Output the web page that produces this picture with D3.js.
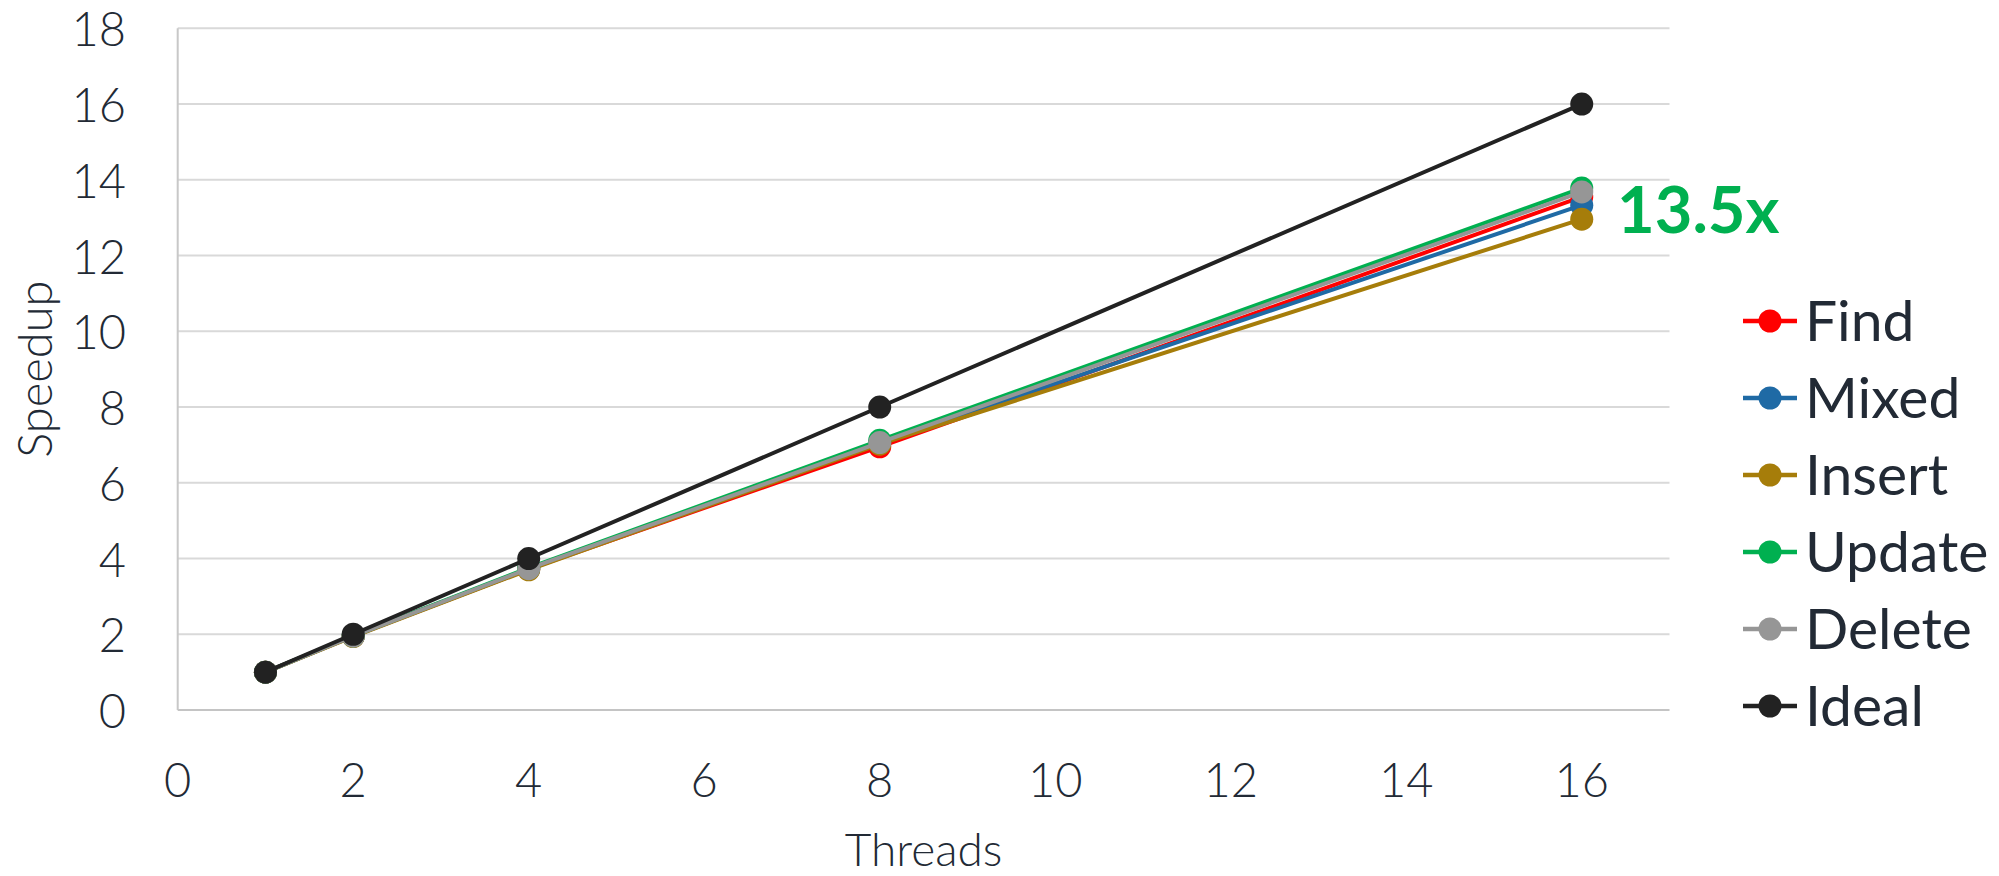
<!DOCTYPE html>
<html>
<head>
<meta charset="utf-8">
<script src="https://cdn.jsdelivr.net/npm/d3@7"></script>
<style>
  html, body { margin: 0; padding: 0; background: #ffffff; }
  svg { display: block; }
</style>
</head>
<body>
<svg id="chart" width="1999" height="876"></svg>
<script>
const threads = [1, 2, 4, 8, 16];
const seriesNames = ["Find", "Mixed", "Insert", "Update", "Delete", "Ideal"];
const findValues   = [1, 1.95, 3.72, 6.95, 13.55];
const mixedValues  = [1, 1.95, 3.72, 7.05, 13.33];
const insertValues = [1, 1.94, 3.70, 7.02, 12.96];
const updateValues = [1, 1.96, 3.75, 7.12, 13.78];
const deleteValues = [1, 1.95, 3.73, 7.06, 13.68];
const idealValues  = [1, 2, 4, 8, 16];
const seriesColors = ["#ff0000", "#1f6aa5", "#a67d0a", "#00b050", "#969696", "#222222"];
const xTicks = [0, 2, 4, 6, 8, 10, 12, 14, 16];
const yTicks = [0, 2, 4, 6, 8, 10, 12, 14, 16, 18];
const annotationText = "13.5x";
const xTitle = "Threads";
const yTitle = "Speedup";

(function () {
const allValues = [findValues, mixedValues, insertValues, updateValues, deleteValues, idealValues];
const series = seriesNames.map((name, i) => ({
  name, color: seriesColors[i],
  points: threads.map((t, j) => ({ x: t, y: allValues[i][j] }))
}));

const textColor = "#222a35";
const svg = d3.select("#chart");
const pLeft = 177.7, pRight = 1669.5, pTop = 28.3, pBottom = 710;

const x = d3.scaleLinear().domain([0, 17]).range([pLeft, pRight]);
const y = d3.scaleLinear().domain([0, 18]).range([pBottom, pTop]);

// gridlines
svg.append("g").selectAll("line").data(yTicks).join("line")
  .attr("x1", pLeft).attr("x2", pRight)
  .attr("y1", d => y(d)).attr("y2", d => y(d))
  .attr("stroke", d => d === 0 ? "#c4c4c4" : "#d9d9d9")
  .attr("stroke-width", 2);
// left axis line
svg.append("line").attr("x1", pLeft).attr("x2", pLeft).attr("y1", pTop).attr("y2", pBottom)
  .attr("stroke", "#c8c8c8").attr("stroke-width", 2);

// y tick labels
svg.append("g").selectAll("text").data(yTicks).join("text")
  .attr("x", 126).attr("y", d => y(d))
  .attr("text-anchor", "end").attr("dominant-baseline", "central")
  .attr("font-family", "Lato").attr("font-weight", 300).attr("font-size", 47)
  .attr("fill", textColor).text(d => d);

// x tick labels
svg.append("g").selectAll("text").data(xTicks).join("text")
  .attr("x", d => x(d)).attr("y", 797)
  .attr("text-anchor", "middle")
  .attr("font-family", "Lato").attr("font-weight", 300).attr("font-size", 47)
  .attr("fill", textColor).text(d => d);

// axis titles
svg.append("text").attr("x", (pLeft + pRight) / 2).attr("y", 866)
  .attr("text-anchor", "middle")
  .attr("font-family", "Lato").attr("font-weight", 300).attr("font-size", 46)
  .attr("fill", textColor).text(xTitle);
svg.append("text")
  .attr("transform", `translate(52, ${(pTop + pBottom) / 2}) rotate(-90)`)
  .attr("text-anchor", "middle")
  .attr("font-family", "Lato").attr("font-weight", 300).attr("font-size", 47)
  .attr("fill", textColor).text(yTitle);

// series lines and markers
const line = d3.line().x(d => x(d.x)).y(d => y(d.y));
const sg = svg.append("g").selectAll("g").data(series).join("g");
sg.append("path").attr("d", d => line(d.points))
  .attr("fill", "none").attr("stroke", d => d.color).attr("stroke-width", 4)
  .attr("stroke-linejoin", "round");
sg.selectAll("circle").data(d => d.points.map(p => ({ ...p, color: d.color }))).join("circle")
  .attr("cx", d => x(d.x)).attr("cy", d => y(d.y)).attr("r", 11.5)
  .attr("fill", d => d.color);

// annotation
svg.append("text").attr("x", 1617).attr("y", 233)
  .attr("font-family", "Lato").attr("font-weight", 700).attr("font-size", 65)
  .attr("fill", "#00b050").text(annotationText);

// legend
const lg = svg.append("g").selectAll("g").data(series).join("g")
  .attr("transform", (d, i) => `translate(0, ${341 + i * 77})`);
lg.append("line").attr("x1", 1743).attr("x2", 1797).attr("y1", -20).attr("y2", -20)
  .attr("stroke", d => d.color).attr("stroke-width", 4.5);
lg.append("circle").attr("cx", 1770).attr("cy", -20).attr("r", 11.5).attr("fill", d => d.color);
lg.append("text").attr("x", 1805).attr("y", 0)
  .attr("font-family", "Lato").attr("font-weight", 400).attr("font-size", 57)
  .attr("fill", textColor).text(d => d.name);
})();
</script>
</body>
</html>
